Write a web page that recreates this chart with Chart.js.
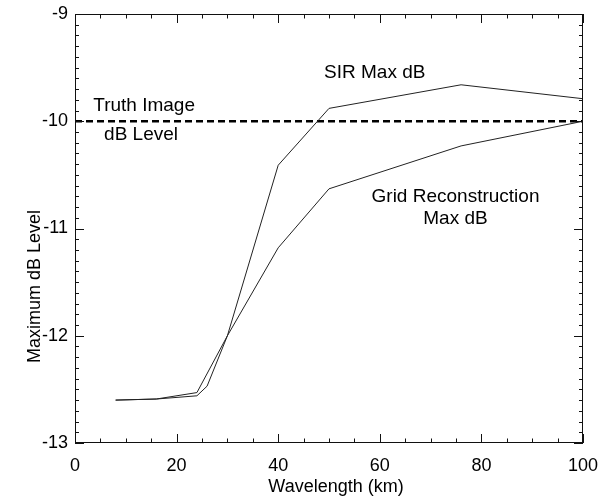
<!DOCTYPE html>
<html>
<head>
<meta charset="utf-8">
<script src="https://cdn.jsdelivr.net/npm/chart.js@4/dist/chart.umd.min.js"></script>
<style>
  html, body { margin: 0; padding: 0; background: #fff; }
  #wrap { width: 607px; height: 499px; }
</style>
</head>
<body>
<div id="wrap"><canvas id="plot" width="607" height="499"></canvas></div>
<script>
// wavelength (km) / max dB pairs
const sirX = [8, 16, 24, 26, 30, 40, 50, 76, 100]
const sirY = [-12.6, -12.59, -12.56, -12.47, -12.0, -10.41, -9.88, -9.66, -9.79]
const gridX = [8, 16, 24, 30, 40, 50, 76, 100]
const gridY = [-12.6, -12.59, -12.53, -12.0, -11.18, -10.63, -10.23, -10.0]
const truthX = [0, 100]
const truthY = [-10, -10]
const xTicks = [0, 20, 40, 60, 80, 100]
const yTicks = [-13, -12, -11, -10, -9]

const FONT = '"Liberation Sans", Arial, Helvetica, sans-serif'

function pairs(xs, ys) {
    return xs.map(function (x, i) { return { x: x, y: ys[i] }; });
}

// text labels placed in data units
const notes = [
    { text: 'Truth Image', x: 13.6, y: -9.86 },
    { text: 'dB Level', x: 13.0, y: -10.13 },
    { text: 'SIR Max dB', x: 59.0, y: -9.545 },
    { text: 'Grid Reconstruction', x: 74.9, y: -10.70 },
    { text: 'Max dB', x: 74.9, y: -10.91 }
]

const frameAndTicks = {
    id: 'frameAndTicks',
    afterDraw: function (chart) {
        const ctx = chart.ctx
        const a = chart.chartArea
        const xs = chart.scales.x
        const ys = chart.scales.y
        ctx.save()
        ctx.strokeStyle = '#111'
        ctx.lineWidth = 1
        ctx.strokeRect(a.left + 0.5, a.top + 0.5, a.right - a.left - 1, a.bottom - a.top - 1)
        ctx.beginPath()
        // x ticks every 5, major every 20 (inward, bottom and top)
        for (let v = 0; v <= 100; v += 5) {
            const len = (v % 20 === 0) ? 9 : 4.5
            const px = Math.round(xs.getPixelForValue(v)) + 0.5
            ctx.moveTo(px, a.bottom); ctx.lineTo(px, a.bottom - len)
            ctx.moveTo(px, a.top); ctx.lineTo(px, a.top + len)
        }
        // y ticks every 0.1, major every 1 (inward, left and right)
        for (let i = 0; i <= 40; i++) {
            const v = -13 + i * 0.1
            const len = (i % 10 === 0) ? 9 : 4
            const py = Math.round(ys.getPixelForValue(v)) + 0.5
            ctx.moveTo(a.left, py); ctx.lineTo(a.left + len, py)
            ctx.moveTo(a.right, py); ctx.lineTo(a.right - len, py)
        }
        ctx.stroke()

        ctx.fillStyle = '#000'
        ctx.textAlign = 'center'
        ctx.textBaseline = 'middle'
        ctx.font = '19px ' + FONT
        notes.forEach(function (n) {
            ctx.fillText(n.text, xs.getPixelForValue(n.x), ys.getPixelForValue(n.y))
        })

        // axis titles
        ctx.font = '18px ' + FONT
        ctx.fillText('Wavelength (km)', (a.left + a.right) / 2 + 7, a.bottom + 44)
        ctx.translate(35, (a.top + a.bottom) / 2 + 58)
        ctx.rotate(-Math.PI / 2)
        ctx.fillText('Maximum dB Level', 0, 0)
        ctx.restore()
    }
}

new Chart(document.getElementById('plot'), {
    type: 'line',
    data: {
        datasets: [{
            label: 'SIR Max dB',
            data: pairs(sirX, sirY),
            borderColor: '#222',
            borderWidth: 1,
            pointRadius: 0,
            tension: 0
        }, {
            label: 'Grid Reconstruction Max dB',
            data: pairs(gridX, gridY),
            borderColor: '#222',
            borderWidth: 1,
            pointRadius: 0,
            tension: 0
        }, {
            label: 'Truth Image dB Level',
            data: pairs(truthX, truthY),
            borderColor: '#000',
            borderWidth: 2.6,
            borderDash: [7, 4],
            pointRadius: 0
        }]
    },
    options: {
        responsive: false,
        animation: false,
        layout: { padding: { left: 0, top: 14, right: 24, bottom: 0 } },
        plugins: {
            legend: { display: false },
            tooltip: { enabled: false }
        },
        scales: {
            x: {
                type: 'linear',
                min: 0,
                max: 100,
                afterFit: function (s) {
                    s.height = 56;
                    s.paddingLeft = 0;
                    s.paddingRight = 0;
                },
                afterBuildTicks: function (s) { s.ticks = xTicks.map(function (v) { return { value: v }; }); },
                grid: { display: false, drawTicks: false },
                border: { display: false },
                ticks: {
                    padding: 12,
                    color: '#000',
                    font: { family: FONT, size: 18 }
                }
            },
            y: {
                type: 'linear',
                min: -13,
                max: -9,
                afterFit: function (s) {
                    s.width = 75;
                    s.paddingTop = 0;
                    s.paddingBottom = 0;
                },
                afterBuildTicks: function (s) { s.ticks = yTicks.map(function (v) { return { value: v }; }); },
                grid: { display: false, drawTicks: false },
                border: { display: false },
                ticks: {
                    padding: 7,
                    color: '#000',
                    font: { family: FONT, size: 18 }
                }
            }
        }
    },
    plugins: [frameAndTicks]
});
</script>
</body>
</html>
